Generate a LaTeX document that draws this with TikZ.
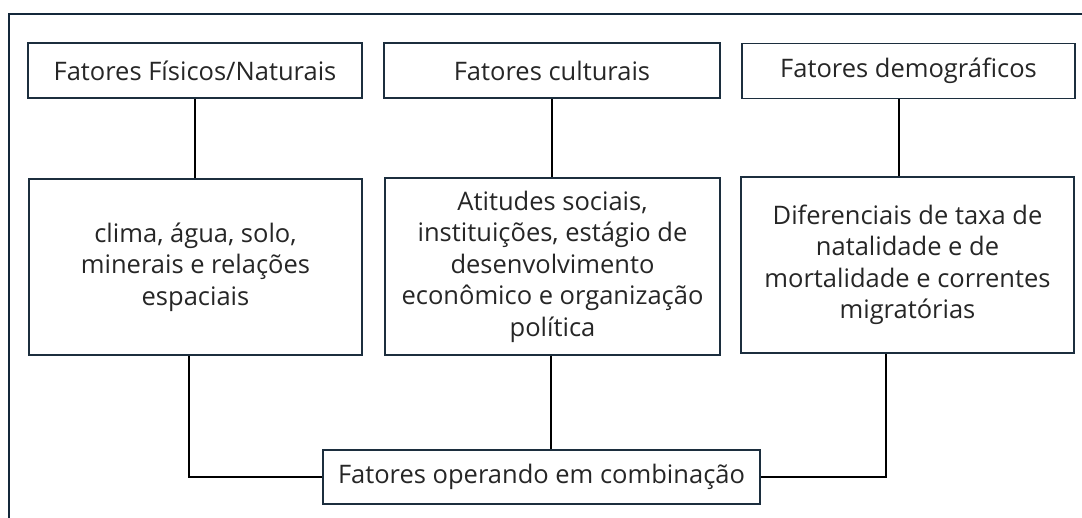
\documentclass[tikz,border=0pt]{standalone}
\usepackage{fontspec}
\setmainfont{Open Sans}
\definecolor{boxline}{HTML}{1C2E3E}
\definecolor{frameline}{HTML}{14283A}
\tikzset{
  fbox/.style={draw=boxline, line width=1.8pt, fill=white, align=center, inner sep=0pt,
    font=\fontsize{25.5}{31.5}\selectfont, text=black!85},
  conn/.style={draw=black, line width=1.8pt}
}
\begin{document}
\begin{tikzpicture}[x=1pt,y=-1pt]
\clip (0,0) rectangle (1082,518);
\fill[white] (0,0) rectangle (1082,518);
\draw[frameline, line width=2.8pt] (9,540) -- (9,14) -- (1100,14);
% top boxes
\node[fbox, minimum width=334pt, minimum height=55pt] (t1) at (195,70.5) {Fatores Físicos/Naturais};
\node[fbox, minimum width=336pt, minimum height=55pt] (t2) at (552,70.5) {Fatores culturais};
\node[fbox, minimum width=333pt, minimum height=55pt] (t3) at (908.5,71) {Fatores demográficos};
% middle boxes
\node[fbox, minimum width=333pt, minimum height=176pt] (m1) at (195.5,267) {clima, água, solo,\\minerais e relações\\espaciais};
\node[fbox, minimum width=335pt, minimum height=177pt] (m2) at (552.5,266.5) {Atitudes sociais,\\instituições, estágio de\\desenvolvimento\\econômico e organização\\política};
\node[fbox, minimum width=333pt, minimum height=176pt] (m3) at (907.5,265) {Diferenciais de taxa de\\natalidade e de\\mortalidade e correntes\\migratórias};
% bottom box
\node[fbox, minimum width=437pt, minimum height=54pt] (b) at (541.5,477) {Fatores operando em combinação};
% connectors
\draw[conn] (t1.south) -- (t1.south |- m1.north);
\draw[conn] (t2.south) -- (t2.south |- m2.north);
\draw[conn] ([xshift=-9.5pt]t3.south) -- ([xshift=-9.5pt]t3.south |- m3.north);
\draw[conn] ([xshift=-6.5pt]m1.south) |- (b.west);
\draw[conn] ([xshift=-1.5pt]m2.south) -- ([xshift=-1.5pt]m2.south |- b.north);
\draw[conn] ([xshift=-21.5pt]m3.south) |- (b.east);
\end{tikzpicture}
\end{document}
